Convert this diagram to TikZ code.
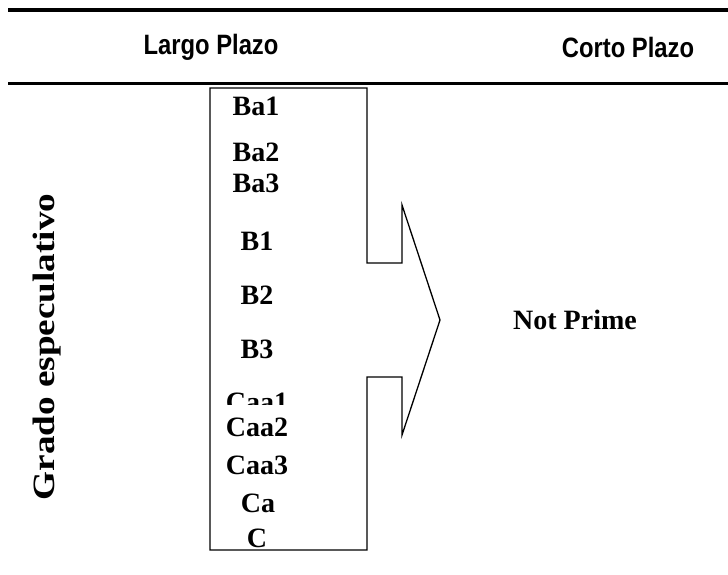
\documentclass[tikz,border=0pt]{standalone}
\usepackage{fontspec}
\setmainfont{Liberation Serif}
\newfontfamily\headfont[FakeStretch=0.85]{Liberation Sans}
\newfontfamily\sidefont[FakeStretch=1.2]{Liberation Serif}
\begin{document}
\begin{tikzpicture}[x=1pt,y=-1pt,
    rating/.style={font=\fontsize{28}{32}\selectfont\bfseries,inner sep=0pt,anchor=base},
    header/.style={font=\headfont\fontsize{28}{32}\selectfont\bfseries}]
    \useasboundingbox (0,0) rectangle (728,574);
    \draw[line width=4pt] (8,10) -- (728,10);
    \draw[line width=3pt] (8,83) -- (728,83);
    \node[header] (lp) at (211,47) {Largo Plazo};
    \node[header] (cp) at (628,47) {Corto Plazo};

    \draw[line width=1.3pt] (367,88) -- (367,263) -- (402,263) -- (402,205)
        -- (440,320) -- (402,435) -- (402,377) -- (367,377) -- (367,550)
        -- (210,550) -- (210,88) -- cycle;

    \node[rating] (ba1) at (256,115) {Ba1};
    \node[rating] (ba2) at (256,161) {Ba2};
    \node[rating] (ba3) at (256,192) {Ba3};
    \node[rating] (b1) at (257,250) {B1};
    \node[rating] (b2) at (257,304) {B2};
    \node[rating] (b3) at (257,358) {B3};
    \node[rating] (caa1) at (257,411) {Caa1};
    \node[rating,fill=white,text height=31pt] (caa2) at (257,436) {Caa2};
    \node[rating] (caa3) at (257,474) {Caa3};
    \node[rating] (ca) at (258,512) {Ca};
    \node[rating] (c) at (257,547) {C};

    \node[font=\fontsize{28}{32}\selectfont\bfseries] (np) at (575,320) {Not Prime};
    \node[font=\sidefont\fontsize{31}{34}\selectfont\bfseries,rotate=90] (ge) at (47,347) {Grado especulativo};
\end{tikzpicture}
\end{document}
